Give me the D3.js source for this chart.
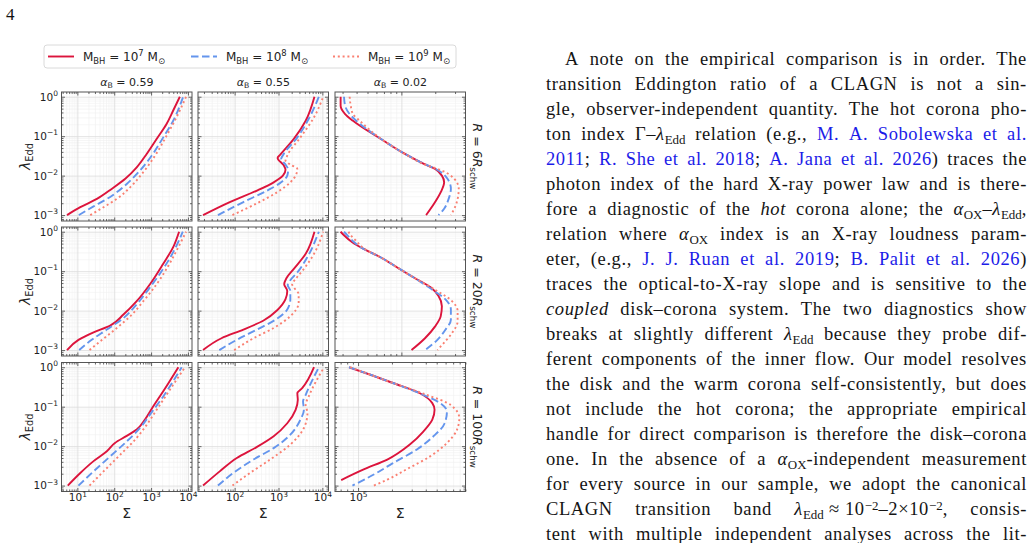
<!DOCTYPE html>
<html>
<head>
<meta charset="utf-8">
<script src="https://cdn.jsdelivr.net/npm/d3@7"></script>
<style>
  body { margin:0; width:1035px; height:543px; overflow:hidden; background:#fff; position:relative; }
  svg { position:absolute; left:0; top:0; }
  svg text { white-space: pre; }
  .ln { position:absolute; left:546px; width:481px; height:25px; line-height:25px; box-sizing:border-box;
        display:flex; justify-content:space-between; white-space:nowrap;
        font-family:"Liberation Serif", serif; font-size:18.5px; letter-spacing:0.6px; color:#141414; }
  .ln sub, .ln sup { font-size:0.7em; line-height:0; position:relative; vertical-align:baseline; letter-spacing:0; }
  .ln sub { top:0.28em; }
  .ln sup { top:-0.45em; }
  .cite { color:#1c1ce8; }
</style>
</head>
<body>
<script>
/* CONSTANTS AND GLOBALS */
const width = 1035, height = 543;
const panelW = 130.5, panelH = 129;
const colX = [61.5, 198, 335];
const rowY = [92, 227, 362.5];

/* DATA  -- every point is [log10 Sigma, log10 lambda_Edd] */
const masses = ["7", "8", "9"];
const alphas = ["0.59", "0.55", "0.02"];
const radii = ["6", "20", "100"];

// R = 6 R_schw
const r6_a059_m7 = [[0.72,-3],[1.08,-2.80],[1.53,-2.59],[1.94,-2.33],[2.30,-2.08],[2.61,-1.79],[2.88,-1.45],[3.15,-1.07],[3.42,-0.69],[3.60,-0.35],[3.78,0]];
const r6_a059_m8 = [[1.04,-3],[1.44,-2.78],[1.89,-2.54],[2.34,-2.21],[2.70,-1.87],[3.02,-1.49],[3.33,-1.03],[3.60,-0.61],[3.87,0]];
const r6_a059_m9 = [[1.35,-3],[1.71,-2.80],[2.07,-2.59],[2.48,-2.25],[2.79,-1.91],[3.11,-1.49],[3.42,-0.99],[3.69,-0.52],[3.95,0]];
const r6_a055_m7 = [[1.28,-3],[1.89,-2.67],[2.51,-2.38],[2.89,-2.17],[3.10,-2.00],[3.16,-1.85],[3.12,-1.74],[2.98,-1.55],[3.04,-1.47],[3.35,-1.07],[3.62,-0.61],[3.82,0]];
const r6_a055_m8 = [[1.62,-3],[2.20,-2.67],[2.74,-2.38],[3.06,-2.17],[3.20,-2.00],[3.22,-1.85],[3.16,-1.72],[3.06,-1.58],[3.12,-1.45],[3.43,-1.03],[3.69,-0.56],[3.92,0]];
const r6_a055_m9 = [[1.95,-3],[2.51,-2.70],[2.97,-2.42],[3.27,-2.17],[3.41,-1.95],[3.43,-1.83],[3.27,-1.72],[3.16,-1.62],[3.20,-1.49],[3.50,-1.03],[3.81,-0.52],[4.02,0]];
const r6_a002_m7 = [[4.46,0],[4.46,-0.23],[4.50,-0.44],[4.57,-0.61],[4.84,-1.11],[5.02,-1.43],[5.20,-1.70],[5.30,-1.83],[5.36,-2.00],[5.38,-2.17],[5.35,-2.42],[5.30,-2.67],[5.22,-3.0]];
const r6_a002_m8 = [[4.49,0],[4.50,-0.23],[4.54,-0.44],[4.60,-0.61],[4.84,-1.11],[5.02,-1.43],[5.20,-1.70],[5.33,-1.87],[5.41,-2.08],[5.44,-2.33],[5.42,-2.59],[5.38,-2.84],[5.33,-3.0]];
const r6_a002_m9 = [[4.54,0],[4.55,-0.23],[4.57,-0.44],[4.63,-0.61],[4.84,-1.11],[5.02,-1.43],[5.21,-1.72],[5.36,-1.87],[5.47,-2.08],[5.51,-2.33],[5.50,-2.59],[5.47,-2.84],[5.44,-3.0]];

// R = 20 R_schw
const r20_a059_m7 = [[0.72,-3],[1.03,-2.74],[1.44,-2.55],[1.89,-2.38],[2.25,-2.10],[2.61,-1.76],[2.97,-1.33],[3.33,-0.81],[3.60,-0.39],[3.76,0]];
const r20_a059_m8 = [[1.05,-3],[1.39,-2.74],[1.80,-2.48],[2.25,-2.19],[2.61,-1.84],[2.97,-1.41],[3.33,-0.94],[3.65,-0.43],[3.86,0]];
const r20_a059_m9 = [[1.33,-3],[1.67,-2.74],[2.07,-2.44],[2.48,-2.10],[2.79,-1.76],[3.15,-1.33],[3.47,-0.86],[3.74,-0.39],[3.95,0]];
const r20_a055_m7 = [[1.28,-3],[1.70,-2.70],[2.20,-2.48],[2.66,-2.25],[2.97,-1.99],[3.16,-1.71],[3.20,-1.50],[3.13,-1.33],[3.18,-1.18],[3.35,-0.94],[3.62,-0.56],[3.82,0]];
const r20_a055_m8 = [[1.65,-3],[2.05,-2.74],[2.51,-2.48],[2.93,-2.23],[3.20,-1.97],[3.27,-1.71],[3.27,-1.50],[3.21,-1.35],[3.26,-1.24],[3.43,-1.03],[3.66,-0.64],[3.92,0]];
const r20_a055_m9 = [[1.99,-3],[2.43,-2.70],[2.89,-2.44],[3.27,-2.14],[3.46,-1.80],[3.46,-1.59],[3.35,-1.41],[3.31,-1.33],[3.39,-1.20],[3.58,-0.94],[3.81,-0.56],[4.02,0]];
const r20_a002_m7 = [[4.46,0],[4.49,-0.09],[4.56,-0.26],[4.66,-0.43],[4.81,-0.64],[4.96,-0.90],[5.11,-1.16],[5.26,-1.41],[5.33,-1.63],[5.36,-1.89],[5.35,-2.14],[5.30,-2.40],[5.21,-2.70],[5.09,-3.0]];
const r20_a002_m8 = [[4.49,0],[4.52,-0.09],[4.57,-0.24],[4.66,-0.43],[4.81,-0.64],[4.96,-0.90],[5.11,-1.16],[5.27,-1.46],[5.39,-1.71],[5.44,-1.97],[5.44,-2.23],[5.39,-2.49],[5.32,-2.74],[5.21,-3.0]];
const r20_a002_m9 = [[4.53,0],[4.55,-0.09],[4.59,-0.21],[4.67,-0.43],[4.81,-0.64],[4.96,-0.90],[5.11,-1.16],[5.30,-1.47],[5.45,-1.76],[5.50,-2.01],[5.50,-2.27],[5.45,-2.57],[5.39,-2.78],[5.32,-3.0]];

// R = 100 R_schw
const r100_a059_m7 = [[0.74,-3],[1.08,-2.68],[1.44,-2.38],[1.80,-2.13],[2.02,-1.92],[2.34,-1.74],[2.61,-1.58],[2.83,-1.33],[3.06,-0.99],[3.33,-0.61],[3.74,0]];
const r100_a059_m8 = [[1.03,-3],[1.44,-2.64],[1.89,-2.26],[2.34,-1.88],[2.70,-1.54],[2.97,-1.20],[3.33,-0.74],[3.83,0]];
const r100_a059_m9 = [[1.33,-3],[1.71,-2.64],[2.16,-2.22],[2.61,-1.79],[2.88,-1.46],[3.15,-1.08],[3.51,-0.57],[3.92,0]];
const r100_a055_m7 = [[1.28,-3],[1.66,-2.64],[2.05,-2.30],[2.51,-2.02],[2.89,-1.75],[3.20,-1.42],[3.39,-1.08],[3.44,-0.83],[3.43,-0.66],[3.54,-0.53],[3.81,0]];
const r100_a055_m8 = [[1.62,-3],[1.97,-2.68],[2.43,-2.34],[2.89,-2.05],[3.27,-1.71],[3.50,-1.33],[3.58,-1.08],[3.56,-0.87],[3.62,-0.70],[3.92,0]];
const r100_a055_m9 = [[1.95,-3],[2.35,-2.68],[2.81,-2.34],[3.27,-1.96],[3.58,-1.54],[3.66,-1.16],[3.62,-0.95],[3.69,-0.74],[4.04,0]];
const r100_a002_m7 = [[4.92,0],[5.11,-0.19],[5.31,-0.40],[5.55,-0.66],[5.66,-0.91],[5.68,-1.08],[5.66,-1.33],[5.58,-1.63],[5.46,-1.96],[5.26,-2.34],[5.05,-2.59],[4.85,-2.86]];
const r100_a002_m8 = [[4.92,0],[5.11,-0.19],[5.31,-0.40],[5.58,-0.70],[5.73,-0.91],[5.79,-1.12],[5.77,-1.42],[5.67,-1.75],[5.52,-2.09],[5.31,-2.43],[5.14,-2.72],[4.95,-3.0]];
const r100_a002_m9 = [[4.93,0],[5.11,-0.19],[5.31,-0.40],[5.61,-0.70],[5.82,-0.95],[5.90,-1.29],[5.88,-1.58],[5.79,-1.92],[5.64,-2.26],[5.43,-2.59],[5.26,-2.85],[5.14,-3.0]];

const panels = [
  [[r6_a059_m7, r6_a059_m8, r6_a059_m9], [r6_a055_m7, r6_a055_m8, r6_a055_m9], [r6_a002_m7, r6_a002_m8, r6_a002_m9]],
  [[r20_a059_m7, r20_a059_m8, r20_a059_m9], [r20_a055_m7, r20_a055_m8, r20_a055_m9], [r20_a002_m7, r20_a002_m8, r20_a002_m9]],
  [[r100_a059_m7, r100_a059_m8, r100_a059_m9], [r100_a055_m7, r100_a055_m8, r100_a055_m9], [r100_a002_m7, r100_a002_m8, r100_a002_m9]]
];

// axis limits (log10)
const yLog = [-3.15, 0.12];
const xLog = [
  [[0.57, 4.11], [1.165, 4.14], [4.41, 5.57]],
  [[0.57, 4.11], [1.165, 4.14], [4.41, 5.57]],
  [[0.57, 4.11], [1.165, 4.14], [4.795, 5.955]]
];

const styles = [
  {color: "#dc143c", width: 1.9, dash: null},
  {color: "#6495ed", width: 1.9, dash: "7.5,3.5"},
  {color: "#fa8072", width: 1.9, dash: "2,2.8"}
];

const textLines = [
  "A note on the empirical comparison is in order. The",
  "transition Eddington ratio of a CLAGN is not a sin-",
  "gle, observer-independent quantity. The hot corona pho-",
  "ton index Γ–<i>λ</i><sub>Edd</sub> relation (e.g., [M.] [A.] [Sobolewska] [et] [al.]",
  "[2011]; [R.] [She] [et] [al.] [2018]; [A.] [Jana] [et] [al.] [2026]) traces the",
  "photon index of the hard X-ray power law and is there-",
  "fore a diagnostic of the <i>hot</i> corona alone; the <i>α</i><sub>OX</sub>–<i>λ</i><sub>Edd</sub>,",
  "relation where <i>α</i><sub>OX</sub> index is an X-ray loudness param-",
  "eter, (e.g., [J.] [J.] [Ruan] [et] [al.] [2019]; [B.] [Palit] [et] [al.] [2026])",
  "traces the optical-to-X-ray slope and is sensitive to the",
  "<i>coupled</i> disk–corona system. The two diagnostics show",
  "breaks at slightly different <i>λ</i><sub>Edd</sub> because they probe dif-",
  "ferent components of the inner flow. Our model resolves",
  "the disk and the warm corona self-consistently, but does",
  "not include the hot corona; the appropriate empirical",
  "handle for direct comparison is therefore the disk–corona",
  "one. In the absence of a <i>α</i><sub>OX</sub>-independent measurement",
  "for every source in our sample, we adopt the canonical",
  "CLAGN transition band <i>λ</i><sub>Edd</sub>\u00a0≈\u00a010<sup>−2</sup>–2×10<sup>−2</sup>, consis-",
  "tent with multiple independent analyses across the lit-"
];

/* HELPERS */
function logTicks(lo, hi) {
  const major = [], minor = [];
  for (let k = Math.floor(lo); k <= Math.ceil(hi); k++) {
    for (let m = 1; m <= 9; m++) {
      const v = m * Math.pow(10, k), lv = Math.log10(v);
      if (lv < lo || lv > hi) continue;
      (m === 1 ? major : minor).push(v);
    }
  }
  return {major, minor};
}

// text with sub/superscripts as tspans
function rich(sel, parts, fs) {
  let cur = 0;
  parts.forEach(p => {
    const shift = p.sub ? 0.24 * fs : p.sup ? -0.42 * fs : 0;
    sel.append("tspan")
      .attr("dy", shift - cur)
      .attr("font-size", (p.sub || p.sup) ? fs * 0.7 : fs)
      .attr("font-style", p.it ? "italic" : null)
      .text(p.t);
    cur = shift;
  });
}

function axisLines(g, axis, transform, color, sw) {
  g.append("g").attr("transform", transform).call(axis)
    .call(a => {
      a.select(".domain").remove();
      a.selectAll("text").remove();
      a.selectAll(".tick line").attr("stroke", color).attr("stroke-width", sw);
    });
}

function labelStyle(a) {
  a.select(".domain").remove();
  a.selectAll(".tick line").remove();
  a.selectAll(".tick text").each(function(d) {
    const e = Math.round(Math.log10(d));
    const t = d3.select(this).text(null)
      .attr("font-family", "DejaVu Sans").attr("font-size", 10.5).attr("fill", "#222");
    t.append("tspan").text("10");
    t.append("tspan").attr("dy", -4.6).attr("font-size", 7.5).text(e < 0 ? "\u2212" + (-e) : String(e));
  });
}

/* SVG */
const svg = d3.select("body").append("svg").attr("width", width).attr("height", height);

svg.append("text").attr("x", 6).attr("y", 20)
  .attr("font-family", "Liberation Serif").attr("font-size", 17).attr("fill", "#111").text("4");

// PANELS
panels.forEach((row, ri) => row.forEach((series, ci) => {
  const x0 = colX[ci], y0 = rowY[ri];
  const [xlo, xhi] = xLog[ri][ci];
  const x = d3.scaleLog().domain([10 ** xlo, 10 ** xhi]).range([x0, x0 + panelW]);
  const y = d3.scaleLog().domain([10 ** yLog[0], 10 ** yLog[1]]).range([y0 + panelH, y0]);
  const xt = logTicks(xlo, xhi), yt = logTicks(yLog[0], yLog[1]);
  const g = svg.append("g");
  const bottom = `translate(0,${y0 + panelH})`, top = `translate(0,${y0})`;
  const left = `translate(${x0},0)`, right = `translate(${x0 + panelW},0)`;

  // grid
  axisLines(g, d3.axisBottom(x).tickValues(xt.minor).tickSize(-panelH), bottom, "#f0f0f0", 0.6);
  axisLines(g, d3.axisLeft(y).tickValues(yt.minor).tickSize(-panelW), left, "#f0f0f0", 0.6);
  axisLines(g, d3.axisBottom(x).tickValues(xt.major).tickSize(-panelH), bottom, "#dadada", 0.8);
  axisLines(g, d3.axisLeft(y).tickValues(yt.major).tickSize(-panelW), left, "#dadada", 0.8);

  // curves
  const lineGen = d3.line()
    .x(d => x(10 ** d[0]))
    .y(d => y(10 ** d[1]))
    .curve(d3.curveMonotoneY);
  series.forEach((s, k) => {
    g.append("path")
      .attr("d", lineGen(s))
      .attr("fill", "none")
      .attr("stroke", styles[k].color)
      .attr("stroke-width", styles[k].width)
      .attr("stroke-dasharray", styles[k].dash);
  });

  // frame
  g.append("rect").attr("x", x0).attr("y", y0).attr("width", panelW).attr("height", panelH)
    .attr("fill", "none").attr("stroke", "#555").attr("stroke-width", 1);

  // inward ticks, all four sides
  [[xt.major, 3.5], [xt.minor, 2]].forEach(([v, len]) => {
    axisLines(g, d3.axisBottom(x).tickValues(v).tickSize(-len), bottom, "#444", 0.8);
    axisLines(g, d3.axisTop(x).tickValues(v).tickSize(-len), top, "#444", 0.8);
  });
  [[yt.major, 3.5], [yt.minor, 2]].forEach(([v, len]) => {
    axisLines(g, d3.axisLeft(y).tickValues(v).tickSize(-len), left, "#444", 0.8);
    axisLines(g, d3.axisRight(y).tickValues(v).tickSize(-len), right, "#444", 0.8);
  });

  // tick labels
  if (ci === 0) {
    g.append("g").attr("transform", left)
      .call(d3.axisLeft(y).tickValues(yt.major).tickSize(0).tickPadding(3.5)).call(labelStyle);
  }
  if (ri === 2) {
    g.append("g").attr("transform", bottom)
      .call(d3.axisBottom(x).tickValues(xt.major).tickSize(0).tickPadding(2.5)).call(labelStyle);
  }
}));

// column titles
alphas.forEach((a, ci) => {
  const t = svg.append("text").attr("x", colX[ci] + panelW / 2).attr("y", 85.5)
    .attr("text-anchor", "middle").attr("font-family", "DejaVu Sans").attr("fill", "#222");
  rich(t, [{t: "α", it: 1}, {t: "B", sub: 1}, {t: " = " + a}], 11);
});

// row labels (right) and y labels (left)
radii.forEach((r, ri) => {
  const cy = rowY[ri] + panelH / 2;
  const t = svg.append("text").attr("transform", `translate(472.5,${cy}) rotate(90)`)
    .attr("text-anchor", "middle").attr("font-family", "DejaVu Sans").attr("fill", "#222");
  rich(t, [{t: "R", it: 1}, {t: " = " + r}, {t: "R", it: 1}, {t: "schw", sub: 1}], 12.5);

  const yl = svg.append("text").attr("transform", `translate(30,${cy}) rotate(-90)`)
    .attr("text-anchor", "middle").attr("font-family", "DejaVu Sans").attr("fill", "#222");
  rich(yl, [{t: "λ", it: 1}, {t: "Edd", sub: 1}], 14);
});

// x labels
colX.forEach(cx => {
  svg.append("text").attr("x", cx + panelW / 2).attr("y", 518).attr("text-anchor", "middle")
    .attr("font-family", "DejaVu Sans").attr("font-size", 14).attr("fill", "#222").text("Σ");
});

// LEGEND
const legend = svg.append("g");
legend.append("rect").attr("x", 44).attr("y", 45).attr("width", 412).attr("height", 23).attr("rx", 3)
  .attr("fill", "#fff").attr("stroke", "#d0d0d0").attr("stroke-width", 0.8);
const legX = [48, 191, 333];
masses.forEach((m, k) => {
  legend.append("line").attr("x1", legX[k]).attr("x2", legX[k] + 26).attr("y1", 56.5).attr("y2", 56.5)
    .attr("stroke", styles[k].color).attr("stroke-width", styles[k].width).attr("stroke-dasharray", styles[k].dash);
  const t = legend.append("text").attr("x", legX[k] + 35).attr("y", 61)
    .attr("font-family", "DejaVu Sans").attr("fill", "#222");
  rich(t, [{t: "M"}, {t: "BH", sub: 1}, {t: " = 10"}, {t: m, sup: 1}, {t: " M"}, {t: "\u2299", sub: 1}], 12);
});

/* TEXT COLUMN */
d3.select("body").selectAll("div.ln")
  .data(textLines)
  .join("div")
  .attr("class", "ln")
  .style("top", (d, i) => (47.4 + 25 * i) + "px")
  .style("padding-left", (d, i) => i === 0 ? "19px" : "0px")
  .html(d => d.split(" ")
    .map(w => "<span>" + w.replace(/\[(.*?)\]/g, '<span class="cite">$1</span>') + "</span>")
    .join(""));
</script>
</body>
</html>
